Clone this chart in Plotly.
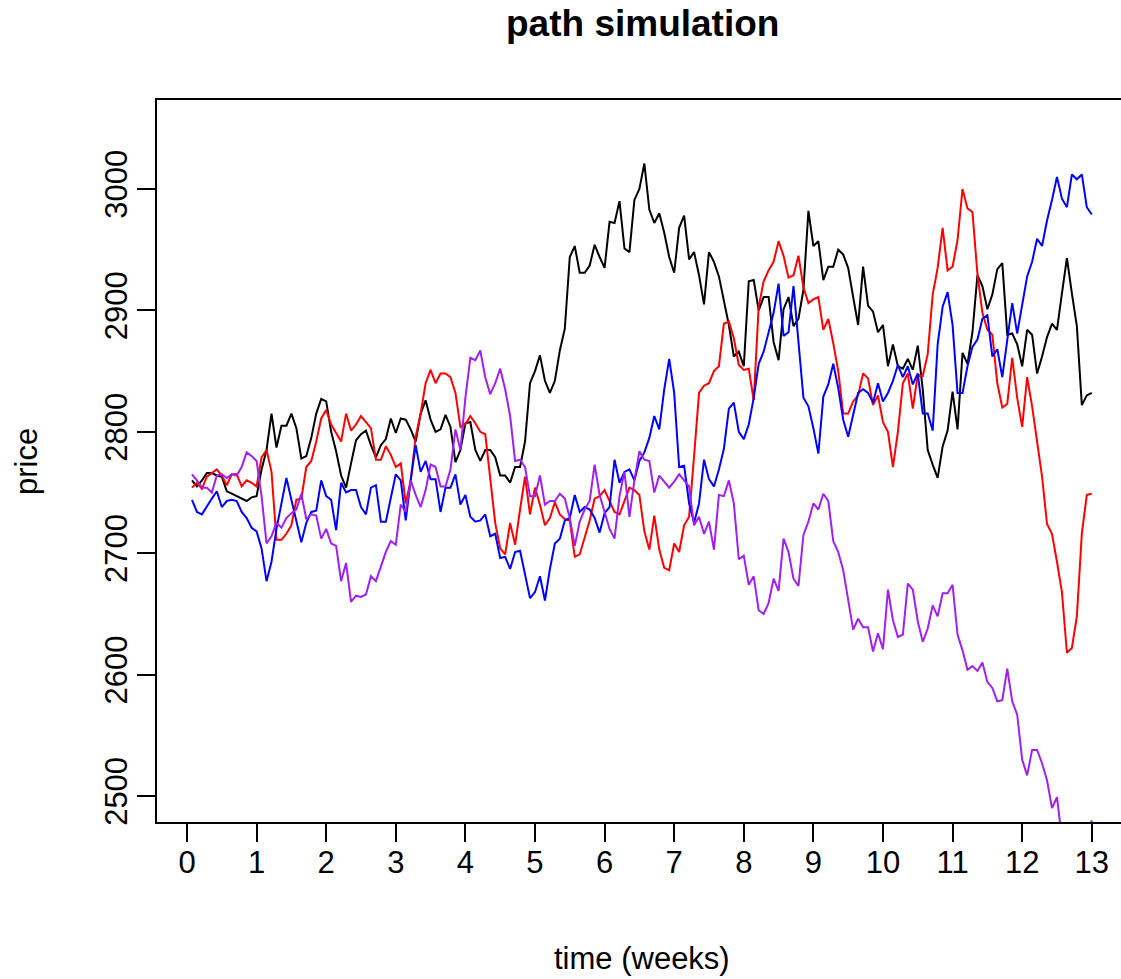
import numpy as np
import plotly.graph_objects as go

# simulated price paths, 14 observations per week, weeks 1/14 .. 13
black = [2760, 2755, 2760, 2766, 2766, 2764, 2763, 2751, 2749, 2747, 2745, 2743, 2746, 2747, 2769, 2785, 2815, 2787, 2805, 2805,
         2815, 2803, 2778, 2780, 2795, 2815, 2827, 2825, 2800, 2784, 2764, 2754, 2774, 2793, 2798, 2801, 2789, 2779, 2789, 2794,
         2811, 2799, 2811, 2810, 2802, 2792, 2815, 2826, 2810, 2800, 2802, 2814, 2804, 2775, 2785, 2807, 2808, 2785, 2776, 2785,
         2785, 2779, 2764, 2764, 2758, 2771, 2771, 2792, 2840, 2850, 2863, 2842, 2832, 2842, 2867, 2885, 2944, 2953, 2931, 2931,
         2937, 2954, 2944, 2935, 2973, 2972, 2990, 2951, 2948, 2991, 3000, 3021, 2983, 2972, 2980, 2964, 2944, 2931, 2968, 2978,
         2942, 2948, 2929, 2905, 2948, 2940, 2928, 2907, 2888, 2862, 2866, 2854, 2924, 2925, 2900, 2911, 2911, 2874, 2859, 2901,
         2911, 2887, 2893, 2917, 2982, 2953, 2957, 2925, 2936, 2936, 2950, 2946, 2935, 2911, 2888, 2936, 2904, 2899, 2882, 2888,
         2854, 2872, 2854, 2852, 2860, 2851, 2871, 2835, 2785, 2773, 2762, 2788, 2801, 2833, 2802, 2865, 2856, 2882, 2929, 2920,
         2901, 2913, 2934, 2939, 2880, 2881, 2872, 2854, 2884, 2880, 2848, 2862, 2878, 2889, 2884, 2914, 2943, 2914, 2887, 2822,
         2830, 2832]

red = [2754, 2758, 2753, 2763, 2766, 2769, 2764, 2756, 2765, 2765, 2755, 2760, 2758, 2755, 2779, 2785, 2767, 2711, 2711, 2716,
       2723, 2744, 2745, 2771, 2776, 2792, 2811, 2818, 2806, 2799, 2792, 2815, 2801, 2806, 2813, 2808, 2803, 2777, 2777, 2788,
       2781, 2771, 2774, 2741, 2760, 2796, 2815, 2840, 2851, 2840, 2848, 2848, 2845, 2832, 2804, 2806, 2813, 2807, 2800, 2798,
       2760, 2725, 2704, 2699, 2725, 2707, 2736, 2763, 2732, 2754, 2740, 2723, 2729, 2742, 2732, 2728, 2727, 2697, 2699, 2712,
       2727, 2745, 2747, 2752, 2743, 2734, 2732, 2743, 2754, 2752, 2748, 2718, 2703, 2731, 2703, 2688, 2686, 2708, 2701, 2723,
       2730, 2780, 2832, 2838, 2840, 2850, 2854, 2889, 2891, 2877, 2855, 2851, 2852, 2826, 2903, 2924, 2933, 2940, 2957, 2945,
       2927, 2929, 2945, 2919, 2906, 2909, 2911, 2884, 2893, 2873, 2850, 2815, 2815, 2825, 2830, 2848, 2844, 2822, 2830, 2808,
       2800, 2771, 2800, 2840, 2848, 2819, 2847, 2846, 2864, 2913, 2935, 2968, 2933, 2936, 2958, 3000, 2984, 2981, 2930, 2898,
       2884, 2880, 2840, 2820, 2823, 2861, 2828, 2804, 2845, 2821, 2793, 2763, 2724, 2716, 2693, 2668, 2618, 2622, 2648, 2716,
       2748, 2749]

blue = [2744, 2734, 2732, 2739, 2745, 2751, 2738, 2743, 2744, 2743, 2734, 2729, 2721, 2718, 2704, 2677, 2693, 2720, 2741, 2762,
        2744, 2727, 2709, 2725, 2734, 2735, 2760, 2747, 2744, 2719, 2758, 2750, 2752, 2752, 2738, 2732, 2754, 2756, 2726, 2726,
        2747, 2765, 2760, 2727, 2760, 2789, 2767, 2776, 2761, 2761, 2734, 2754, 2754, 2765, 2740, 2748, 2730, 2726, 2727, 2732,
        2714, 2716, 2696, 2697, 2687, 2701, 2702, 2682, 2663, 2668, 2681, 2661, 2687, 2708, 2712, 2727, 2729, 2748, 2734, 2738,
        2736, 2729, 2717, 2733, 2738, 2777, 2758, 2767, 2769, 2760, 2776, 2783, 2795, 2813, 2802, 2835, 2860, 2832, 2771, 2772,
        2741, 2725, 2741, 2777, 2761, 2755, 2769, 2786, 2819, 2824, 2800, 2794, 2806, 2828, 2856, 2866, 2881, 2898, 2922, 2879,
        2882, 2920, 2874, 2828, 2821, 2803, 2782, 2829, 2839, 2856, 2836, 2810, 2796, 2814, 2832, 2835, 2832, 2824, 2840, 2825,
        2832, 2842, 2855, 2845, 2854, 2839, 2848, 2815, 2815, 2801, 2872, 2903, 2915, 2888, 2832, 2832, 2854, 2870, 2876, 2893,
        2896, 2862, 2868, 2845, 2876, 2906, 2881, 2904, 2928, 2940, 2959, 2953, 2974, 2991, 3010, 2992, 2985, 3012, 3008, 3012,
        2985, 2979]

purple = [2765, 2760, 2754, 2754, 2750, 2764, 2765, 2762, 2765, 2764, 2771, 2783, 2780, 2776, 2747, 2708, 2714, 2725, 2721, 2729,
          2733, 2736, 2749, 2728, 2732, 2731, 2712, 2720, 2708, 2706, 2677, 2692, 2660, 2665, 2664, 2666, 2681, 2677, 2689, 2701,
          2710, 2707, 2740, 2734, 2760, 2748, 2738, 2752, 2773, 2771, 2755, 2755, 2769, 2802, 2785, 2828, 2861, 2859, 2867, 2845,
          2831, 2840, 2852, 2835, 2813, 2776, 2777, 2771, 2747, 2747, 2764, 2740, 2743, 2743, 2749, 2745, 2729, 2706, 2726, 2736,
          2743, 2773, 2748, 2733, 2720, 2712, 2747, 2767, 2730, 2760, 2784, 2777, 2776, 2750, 2764, 2759, 2754, 2759, 2765, 2760,
          2755, 2723, 2730, 2716, 2726, 2703, 2748, 2747, 2760, 2741, 2695, 2698, 2674, 2681, 2653, 2650, 2659, 2679, 2669, 2712,
          2701, 2679, 2673, 2715, 2726, 2741, 2736, 2749, 2743, 2710, 2701, 2686, 2661, 2637, 2646, 2639, 2639, 2619, 2634, 2621,
          2670, 2645, 2631, 2633, 2675, 2670, 2644, 2627, 2638, 2657, 2648, 2667, 2667, 2674, 2633, 2620, 2604, 2607, 2603, 2610,
          2594, 2589, 2578, 2579, 2605, 2578, 2567, 2530, 2517, 2538, 2538, 2527, 2513, 2490, 2499, 2465, 2450, 2445, 2455, 2462,
          2458, 2480]

steps_per_week = 14
weeks = np.arange(1, len(black) + 1) / steps_per_week

x_ticks = list(range(0, 14))
y_ticks = [2500, 2600, 2700, 2800, 2900, 3000]

series = [("black", black), ("red", red), ("blue", blue), ("#A020F0", purple)]

FONT = "Liberation Sans, Arial, Helvetica, sans-serif"
FS = 31

fig = go.Figure()
for col, vals in series:
    fig.add_trace(go.Scatter(x=weeks, y=vals, mode="lines",
                             line=dict(color=col, width=2), showlegend=False))

L, R, T, B = 157, 1121, 100, 822
W, H = 1121, 979

fig.update_layout(
    width=W, height=H,
    margin=dict(l=L, r=W - R, t=T, b=H - B, pad=0),
    paper_bgcolor="white", plot_bgcolor="white",
    font=dict(family=FONT, size=FS, color="black"),
    showlegend=False,
)
fig.update_xaxes(range=[-0.431, 13.42], tickvals=x_ticks, ticktext=[str(v) for v in x_ticks],
                 ticks="outside", ticklen=18, tickwidth=1.5, tickcolor="black",
                 showline=True, linecolor="black", linewidth=1.5, mirror=True,
                 showgrid=False, zeroline=False, tickfont=dict(size=FS), ticklabelstandoff=-6)
fig.update_yaxes(range=[2478.6, 3073.3], tickvals=y_ticks, ticktext=[str(v) for v in y_ticks],
                 ticks="outside", ticklen=18, tickwidth=1.5, tickcolor="black", tickangle=-90,
                 showline=True, linecolor="black", linewidth=1.5, mirror=False,
                 showgrid=False, zeroline=False, tickfont=dict(size=FS), ticklabelstandoff=-2)

pw, ph = R - L, B - T
def px2paper(x, y):
    return (x - L) / pw, (B - y) / ph

tx, ty = px2paper(642, 23)
fig.add_annotation(text="<b>path simulation</b>", x=tx, y=ty, xref="paper", yref="paper",
                   showarrow=False, font=dict(size=37), xanchor="center", yanchor="middle")
ax_, ay_ = px2paper(642, 958)
fig.add_annotation(text="time (weeks)", x=ax_, y=ay_, xref="paper", yref="paper",
                   showarrow=False, font=dict(size=FS), xanchor="center", yanchor="middle")
px_, py_ = px2paper(26, 462)
fig.add_annotation(text="price", x=px_, y=py_, xref="paper", yref="paper", textangle=-90,
                   showarrow=False, font=dict(size=FS), xanchor="center", yanchor="middle")

fig.write_html("out.html")
